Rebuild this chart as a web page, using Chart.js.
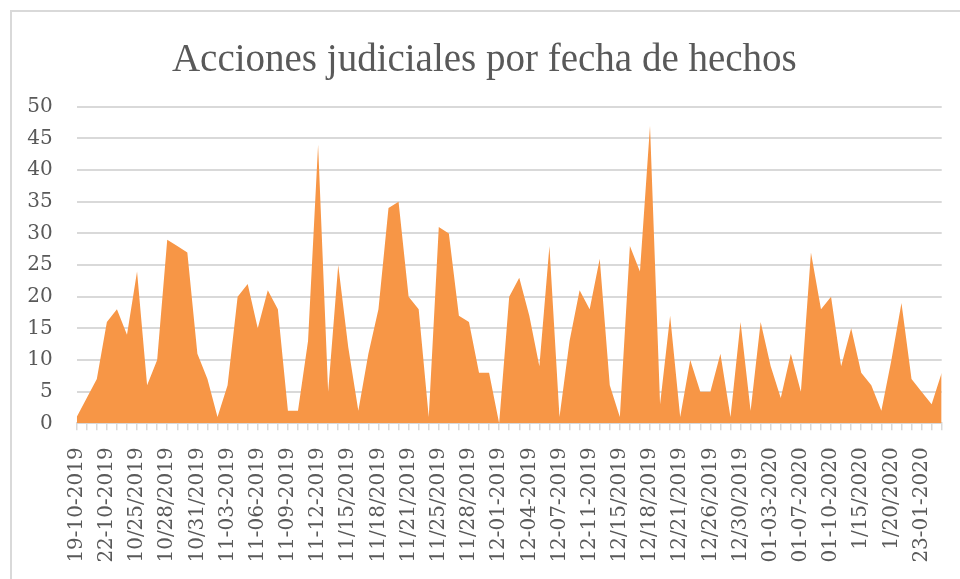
<!DOCTYPE html>
<html lang="es">
<head>
    <meta charset="UTF-8">
    <title>Acciones judiciales por fecha de hechos</title>
    <script src="https://cdn.jsdelivr.net/npm/chart.js"></script>
    <style>
        html, body {
            margin: 0;
            padding: 0;
            background: #ffffff;
            overflow: hidden;
        }
        .marco {
            position: absolute;
            left: 10px;
            top: 10px;
            width: 1000px;
            height: 1000px;
            border-left: 2px solid #d9d9d9;
            border-top: 2px solid #d9d9d9;
        }
        .lienzo {
            position: absolute;
            left: 0;
            top: 0;
            width: 960px;
            height: 579px;
        }
    </style>
</head>
<body>
    <div class="marco"></div>
    <div class="lienzo"><canvas id="grafico" width="960" height="579"></canvas></div>
    <script>
        const tituloGrafico = 'Acciones judiciales por fecha de hechos';

        // fechas tal como aparecen en la hoja (formato mezclado)
        const fechas = [
            '19-10-2019', '20-10-2019', '21-10-2019', '22-10-2019', '23-10-2019', '24-10-2019',
            '10/25/2019', '10/26/2019', '10/27/2019', '10/28/2019', '10/29/2019', '10/30/2019',
            '10/31/2019', '11-01-2019', '11-02-2019', '11-03-2019', '11-04-2019', '11-05-2019',
            '11-06-2019', '11-07-2019', '11-08-2019', '11-09-2019', '11-10-2019', '11-11-2019',
            '11-12-2019', '11/13/2019', '11/14/2019', '11/15/2019', '11/16/2019', '11/17/2019',
            '11/18/2019', '11/19/2019', '11/20/2019', '11/21/2019', '11/22/2019', '11/23/2019',
            '11/25/2019', '11/26/2019', '11/27/2019', '11/28/2019', '11/29/2019', '11/30/2019',
            '12-01-2019', '12-02-2019', '12-03-2019', '12-04-2019', '12-05-2019', '12-06-2019',
            '12-07-2019', '12-08-2019', '12-09-2019', '12-11-2019', '12-12-2019', '12/13/2019',
            '12/15/2019', '12/16/2019', '12/17/2019', '12/18/2019', '12/19/2019', '12/20/2019',
            '12/21/2019', '12/22/2019', '12/23/2019', '12/26/2019', '12/27/2019', '12/28/2019',
            '12/30/2019', '12/31/2019', '01-02-2020', '01-03-2020', '01-04-2020', '01-06-2020',
            '01-07-2020', '01-08-2020', '01-09-2020', '01-10-2020', '01-11-2020', '1/13/2020',
            '1/15/2020', '1/16/2020', '1/17/2020', '1/20/2020', '1/21/2020', '1/22/2020',
            '23-01-2020', '24-01-2020', '25-01-2020'
        ];

        // número de acciones por fecha
        const acciones = [
            1, 4, 7, 16, 18, 14, 24, 6, 10, 29,
            28, 27, 11, 7, 1, 6, 20, 22, 15, 21,
            18, 2, 2, 13, 44, 5, 25, 12, 2, 11,
            18, 34, 35, 20, 18, 1, 31, 30, 17, 16,
            8, 8, 0, 20, 23, 17, 9, 28, 1, 13,
            21, 18, 26, 6, 1, 28, 24, 47, 3, 17,
            1, 10, 5, 5, 11, 1, 16, 2, 16, 9,
            4, 11, 5, 27, 18, 20, 9, 15, 8, 6,
            2, 10, 19, 7, 5, 3, 8
        ];

        const valoresEjeY = [0, 5, 10, 15, 20, 25, 30, 35, 40, 45, 50];
        const cadaCuantas = 3; // solo se ve una etiqueta de cada tres

        const gris = '#595959';
        const lineaGris = '#d9d9d9';

        const ctx = document.getElementById('grafico').getContext('2d');
        new Chart(ctx, {
            type: 'line',
            data: {
                labels: fechas,
                datasets: [{
                    label: 'Acciones',
                    data: acciones,
                    fill: 'origin',
                    backgroundColor: '#f79646',
                    borderColor: '#f79646',
                    borderWidth: 0,
                    pointRadius: 0,
                    tension: 0
                }]
            },
            options: {
                responsive: false,
                animation: false,
                layout: {
                    padding: { left: 27, right: 18.3, top: 0, bottom: 0 }
                },
                plugins: {
                    legend: { display: false },
                    tooltip: { enabled: false },
                    title: {
                        display: true,
                        text: tituloGrafico,
                        color: gris,
                        font: { family: 'Liberation Serif', size: 39, weight: 'normal' },
                        padding: { top: 37, bottom: 23 }
                    }
                },
                scales: {
                    x: {
                        type: 'category',
                        offset: false,
                        border: { color: lineaGris, width: 2 },
                        grid: {
                            drawOnChartArea: false,
                            drawTicks: true,
                            tickLength: 7,
                            tickColor: lineaGris,
                            lineWidth: 1.5
                        },
                        ticks: {
                            autoSkip: false,
                            minRotation: 90,
                            maxRotation: 90,
                            padding: 17,
                            color: gris,
                            font: { family: 'DejaVu Serif', size: 20 },
                            callback: function (valor, indice) {
                                return indice % cadaCuantas === 0 ? fechas[indice] : '';
                            }
                        },
                        afterFit: function (escala) {
                            escala.height = 579 - 423.3;
                            escala.paddingLeft = 0;
                            escala.paddingRight = 0;
                        }
                    },
                    y: {
                        min: valoresEjeY[0],
                        max: valoresEjeY[valoresEjeY.length - 1],
                        border: { display: false },
                        grid: {
                            color: lineaGris,
                            lineWidth: 2,
                            drawTicks: false
                        },
                        afterBuildTicks: function (escala) {
                            escala.ticks = valoresEjeY.map(v => ({ value: v }));
                        },
                        ticks: {
                            padding: 24,
                            color: gris,
                            font: { family: 'DejaVu Serif', size: 20 }
                        },
                        afterFit: function (escala) {
                            escala.width = 76.7 - 27;
                        }
                    }
                }
            }
        });
    </script>
</body>
</html>
